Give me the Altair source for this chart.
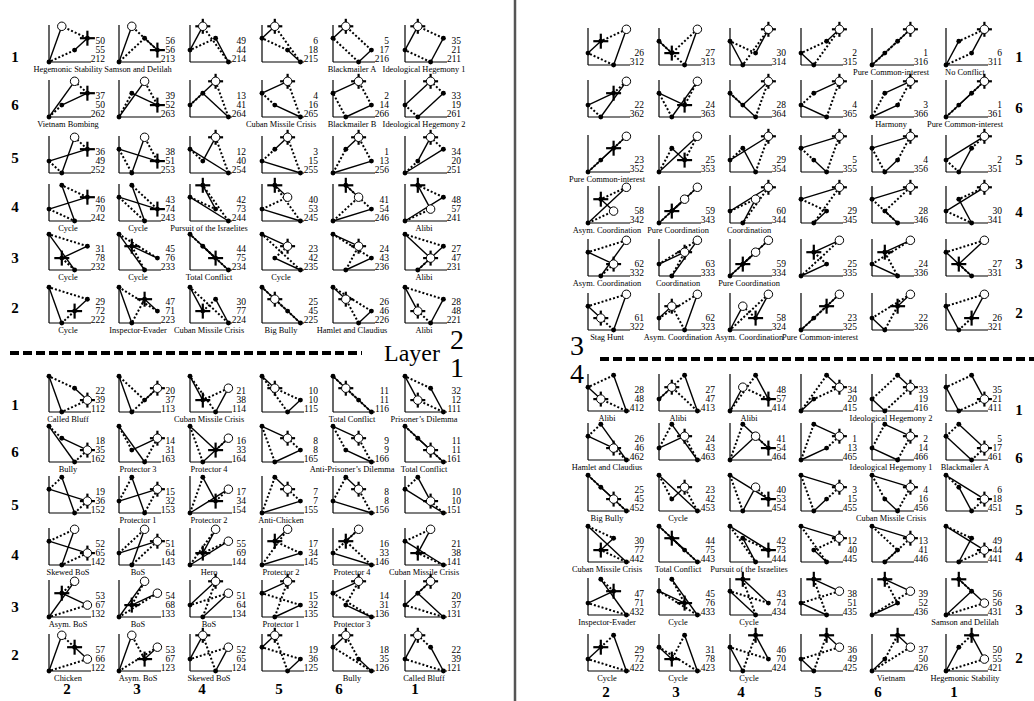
import altair as alt
import pandas as pd

# ---------------- data ----------------
# Robinson-Goforth structure: ordinal payoffs of a player for index 1..6.
# P holds the player's 4; D = outcome linked to P by the dotted move,
# S = outcome linked to P by the solid move, O = opposite outcome.
ARR_D = [2, 1, 1, 2, 3, 3]
ARR_S = [3, 3, 2, 1, 1, 2]
ARR_O = [1, 2, 3, 3, 2, 1]
# Layer: outcome where the second player's 4 sits
LAYER_Y = {1: "O", 2: "D", 3: "P", 4: "S"}

ROW_ORDER = [1, 6, 5, 4, 3, 2]
COL_ORDER = [2, 3, 4, 5, 6, 1]

L2_A = [[50, 56, 49, 6, 5, 35], [37, 39, 13, 4, 2, 33], [36, 38, 12, 3, 1, 34],
        [46, 43, 42, 40, 41, 48], [31, 45, 44, 23, 24, 27], [29, 47, 30, 25, 26, 28]]
L2_B = [[55, 56, 44, 18, 17, 21], [50, 52, 41, 16, 14, 19], [49, 51, 40, 15, 13, 20],
        [70, 74, 73, 53, 54, 57], [78, 76, 75, 42, 43, 47], [72, 71, 77, 45, 46, 48]]
L2_N = [["Hegemonic Stability", "Samson and Delilah", "", "", "Blackmailer A", "Ideological Hegemony 1"],
        ["Vietnam Bombing", "", "", "Cuban Missile Crisis", "Blackmailer B", "Ideological Hegemony 2"],
        ["", "", "", "", "", ""],
        ["Cycle", "Cycle", "Pursuit of the Israelites", "", "", "Alibi"],
        ["Cycle", "Cycle", "Total Conflict", "Cycle", "", "Alibi"],
        ["Cycle", "Inspector-Evader", "Cuban Missile Crisis", "Big Bully", "Hamlet and Claudius", "Alibi"]]

L1_A = [[22, 20, 21, 10, 11, 32], [18, 14, 16, 8, 9, 11], [19, 15, 17, 7, 8, 10],
        [52, 51, 55, 17, 16, 21], [53, 54, 51, 15, 14, 20], [57, 53, 52, 19, 18, 22]]
L1_B = [[39, 37, 38, 10, 11, 12], [35, 31, 33, 8, 9, 11], [36, 32, 34, 7, 8, 10],
        [65, 64, 69, 34, 33, 38], [67, 68, 64, 32, 31, 37], [66, 67, 65, 36, 35, 39]]
L1_N = [["Called Bluff", "", "Cuban Missile Crisis", "", "Total Conflict", "Prisoner\u2019s Dilemma"],
        ["Bully", "Protector 3", "Protector 4", "", "Anti-Prisoner\u2019s Dilemma", "Total Conflict"],
        ["", "Protector 1", "Protector 2", "Anti-Chicken", "", ""],
        ["Skewed BoS", "BoS", "Hero", "Protector 2", "Protector 4", "Cuban Missile Crisis"],
        ["Asym. BoS", "BoS", "BoS", "Protector 1", "Protector 3", ""],
        ["Chicken", "Asym. BoS", "Skewed BoS", "", "Bully", "Called Bluff"]]

L3_A = [[26, 27, 30, 2, 1, 6], [22, 24, 28, 4, 3, 1], [23, 25, 29, 5, 4, 2],
        [58, 59, 60, 29, 28, 30], [62, 63, 59, 25, 24, 27], [61, 62, 58, 23, 22, 26]]
L3_N = [["", "", "", "", "Pure Common-interest", "No Conflict"],
        ["", "", "", "", "Harmony", "Pure Common-interest"],
        ["Pure Common-interest", "", "", "", "", ""],
        ["Asym. Coordination", "Pure Coordination", "Coordination", "", "", ""],
        ["Asym. Coordination", "Coordination", "Pure Coordination", "", "", ""],
        ["Stag Hunt", "Asym. Coordination", "Asym. Coordination", "Pure Common-interest", "", ""]]

L4_A = [[28, 27, 48, 34, 33, 35], [26, 24, 41, 1, 2, 5], [25, 23, 40, 3, 4, 6],
        [30, 44, 42, 12, 13, 49], [47, 45, 43, 38, 39, 56], [29, 31, 46, 36, 37, 50]]
L4_B = [[48, 47, 57, 20, 19, 21], [46, 43, 54, 13, 14, 17], [45, 42, 53, 15, 16, 18],
        [77, 75, 73, 40, 41, 44], [71, 76, 74, 51, 52, 56], [72, 78, 70, 49, 50, 55]]
L4_N = [["Alibi", "Alibi", "Alibi", "", "Ideological Hegemony 2", ""],
        ["Hamlet and Claudius", "", "", "", "Ideological Hegemony 1", "Blackmailer A"],
        ["Big Bully", "Cycle", "", "", "Cuban Missile Crisis", ""],
        ["Cuban Missile Crisis", "Total Conflict", "Pursuit of the Israelites", "", "", ""],
        ["Inspector-Evader", "Cycle", "Cycle", "", "", "Samson and Delilah"],
        ["Cycle", "Cycle", "Cycle", "", "Vietnam", "Hegemonic Stability"]]

# ---------------- layout ----------------
LEFT_X = [49, 119, 190, 262, 333, 405]
RIGHT_X = [588, 659, 730, 801, 872, 946]
TL_Y = [62, 117, 173, 221, 270, 323]
BL_Y = [412, 462, 513, 565, 617, 671]
TR_Y = [65, 117, 172, 223, 276, 330]
BR_Y = [411, 460, 511, 562, 615, 671]
TL_LAB = [57, 105, 158, 207, 258, 308]
BL_LAB = [405, 452, 505, 555, 607, 655]
TR_LAB = [57, 108, 160, 212, 264, 313]
BR_LAB = [410, 458, 510, 557, 610, 658]
COL_LAB_L = [67, 137, 202, 279, 339, 415]
COL_LAB_R = [606, 676, 741, 818, 878, 954]
UX, UY = 12.8, 11.9

SOLID = {"P": "S", "S": "P", "D": "O", "O": "D"}
DOTTED = {"P": "D", "D": "P", "S": "O", "O": "S"}
OPP = {"P": "O", "O": "P", "D": "S", "S": "D"}

QUADS = [
    dict(layer=2, xs=LEFT_X, ys=TL_Y, A=L2_A, B=L2_B, N=L2_N),
    dict(layer=1, xs=LEFT_X, ys=BL_Y, A=L1_A, B=L1_B, N=L1_N),
    dict(layer=3, xs=RIGHT_X, ys=TR_Y, A=L3_A, B=None, N=L3_N),
    dict(layer=4, xs=RIGHT_X, ys=BR_Y, A=L4_A, B=L4_B, N=L4_N),
]

axes, solid, dotted, dots, circles, crosses, nums, names = [], [], [], [], [], [], [], []
for q in QUADS:
    L = q["layer"]
    for i, r in enumerate(ROW_ORDER):
        for j, c in enumerate(COL_ORDER):
            lx, by = q["xs"][j], q["ys"][i]
            xv = {"P": 4, "D": ARR_D[r - 1], "S": ARR_S[r - 1], "O": ARR_O[r - 1]}
            Y = LAYER_Y[L]
            yv = {Y: 4, SOLID[Y]: ARR_D[c - 1], DOTTED[Y]: ARR_S[c - 1], OPP[Y]: ARR_O[c - 1]}
            pos = {k: (lx + (xv[k] - 1) * UX, by - (yv[k] - 1) * UY) for k in "PDSO"}
            axes.append(dict(x=lx, y=by, x2=lx, y2=by - 37))
            axes.append(dict(x=lx, y=by, x2=lx + 42, y2=by))
            for a, b in (("P", "D"), ("S", "O")):
                dotted.append(dict(x=pos[a][0], y=pos[a][1], x2=pos[b][0], y2=pos[b][1]))
            for a, b in (("P", "S"), ("D", "O")):
                solid.append(dict(x=pos[a][0], y=pos[a][1], x2=pos[b][0], y2=pos[b][1]))
            for k in "PDSO":
                dots.append(dict(x=pos[k][0], y=pos[k][1]))
                if xv[k] > xv[SOLID[k]] and yv[k] > yv[DOTTED[k]]:
                    circles.append(dict(x=pos[k][0], y=pos[k][1]))
            xs_pick = {"P", "D"} if xv["D"] > min(xv["S"], xv["O"]) else {"S", "O"}
            ys_pick = {"P", "S"} if min(yv["P"], yv["S"]) > min(yv["D"], yv["O"]) else {"D", "O"}
            mm = list(xs_pick & ys_pick)[0]
            cx, cy = pos[mm]
            crosses.append(dict(x=cx - 7.5, y=cy, x2=cx + 7.5, y2=cy))
            crosses.append(dict(x=cx, y=cy - 7.5, x2=cx, y2=cy + 7.5))
            idx = f"{L}{r}{c}"
            vals = [str(q["A"][i][j])] + ([str(q["B"][i][j])] if q["B"] else []) + [idx]
            offs = [-21, -12, -3] if len(vals) == 3 else [-12, -3]
            for v, o in zip(vals, offs):
                nums.append(dict(x=lx + 56, y=by + o, t=v))
            if q["N"][i][j]:
                names.append(dict(x=lx + 19, y=by + 6.5, t=q["N"][i][j]))

row_labels = []
for ys, xpos in ((TL_LAB, 15), (BL_LAB, 15), (TR_LAB, 1019), (BR_LAB, 1019)):
    for r, yy in zip(ROW_ORDER, ys):
        row_labels.append(dict(x=xpos, y=yy, t=str(r)))
for xsl, yy in ((COL_LAB_L, 689), (COL_LAB_R, 692)):
    for c, xx in zip(COL_ORDER, xsl):
        row_labels.append(dict(x=xx, y=yy, t=str(c)))

big_labels = [dict(x=457, y=341, t="2"), dict(x=457, y=369, t="1"),
              dict(x=577, y=347, t="3"), dict(x=577, y=375, t="4")]
layer_label = [dict(x=412, y=354, t="Layer")]
dashes = [dict(x=10, y=353, x2=362, y2=353), dict(x=600, y=359, x2=1034, y2=359)]
sep = [dict(x=515, y=0, x2=515, y2=701)]

XS = alt.Scale(domain=[0, 1034], nice=False, zero=False)
YS = alt.Scale(domain=[701, 0], nice=False, zero=False)
FONT = "Liberation Serif"


def enc(df, two=False):
    e = dict(x=alt.X("x:Q", scale=XS, axis=None), y=alt.Y("y:Q", scale=YS, axis=None))
    if two:
        e.update(x2="x2:Q", y2="y2:Q")
    return alt.Chart(pd.DataFrame(df)).encode(**e)


layers = [
    enc(sep, True).mark_rule(color="#555555", strokeWidth=2.5),
    enc(dashes, True).mark_rule(color="black", strokeWidth=4, strokeDash=[9, 4]),
    enc(axes, True).mark_rule(color="black", strokeWidth=1.2),
    enc(dotted, True).mark_rule(color="black", strokeWidth=2, strokeDash=[2, 2]),
    enc(solid, True).mark_rule(color="black", strokeWidth=1.4),
    enc(dots).mark_circle(color="black", size=24, opacity=1),
    enc(crosses, True).mark_rule(color="black", strokeWidth=2.2),
    enc(circles).mark_point(shape="circle", filled=True, fill="white", stroke="black",
                            strokeWidth=1, size=72, opacity=1),
    enc(nums).mark_text(font=FONT, fontSize=9.5, align="right", baseline="middle",
                        color="black").encode(text="t:N"),
    enc(names).mark_text(font=FONT, fontSize=8.4, align="center", baseline="middle",
                         color="black").encode(text="t:N"),
    enc(row_labels).mark_text(font=FONT, fontSize=15, fontWeight="bold", align="center",
                              baseline="middle", color="black").encode(text="t:N"),
    enc(big_labels).mark_text(font=FONT, fontSize=28, align="center", baseline="middle",
                              color="black").encode(text="t:N"),
    enc(layer_label).mark_text(font=FONT, fontSize=24, align="center", baseline="middle",
                               color="black").encode(text="t:N"),
]

chart = alt.layer(*layers).properties(
    width=1034, height=701, padding=0, autosize=alt.AutoSizeParams(type="none")
).configure_view(stroke=None)

chart.save("out.html", embed_options={"renderer": "svg", "actions": False})
